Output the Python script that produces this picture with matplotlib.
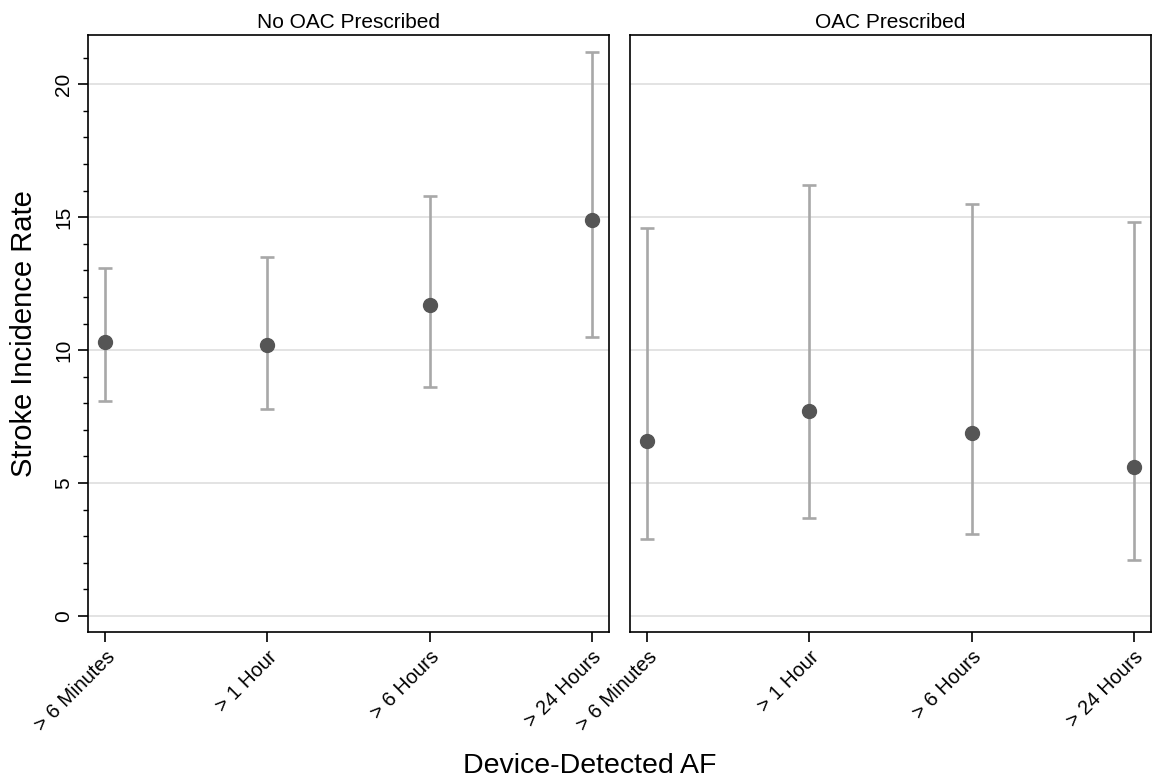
import numpy as np
import matplotlib.pyplot as plt
from matplotlib.ticker import MultipleLocator

plt.rcParams['font.family'] = ['Liberation Sans', 'DejaVu Sans']

# Data
categories = ["> 6 Minutes", "> 1 Hour", "> 6 Hours", "> 24 Hours"]
panels = ["No OAC Prescribed", "OAC Prescribed"]
rate_no_oac = [10.3, 10.2, 11.7, 14.9]
lo_no_oac = [8.1, 7.8, 8.6, 10.5]
hi_no_oac = [13.1, 13.5, 15.8, 21.2]
rate_oac = [6.6, 7.7, 6.9, 5.6]
lo_oac = [2.9, 3.7, 3.1, 2.1]
hi_oac = [14.6, 16.2, 15.5, 14.8]

W, H = 1153, 781
fig = plt.figure(figsize=(W / 100, H / 100), dpi=100)
ax1 = fig.add_axes([88 / W, 1 - 632 / H, (609 - 88) / W, (632 - 35) / H])
ax2 = fig.add_axes([630 / W, 1 - 632 / H, (1151 - 630) / W, (632 - 35) / H])

series = [(rate_no_oac, lo_no_oac, hi_no_oac), (rate_oac, lo_oac, hi_oac)]
x = np.arange(len(categories))

for ax, title, (rate, lo, hi) in zip([ax1, ax2], panels, series):
    rate = np.array(rate)
    err = np.vstack([rate - np.array(lo), np.array(hi) - rate])
    for yv in [0, 5, 10, 15, 20]:
        ax.axhline(yv, color="#e0e0e0", lw=1.3, zorder=0)
    ax.errorbar(x, rate, yerr=err, fmt="none", ecolor="#a8a8a8",
                elinewidth=1.9, capsize=4.7, capthick=1.9, zorder=2)
    ax.plot(x, rate, "o", color="#555555", markersize=10, zorder=3)
    ax.set_xlim(-0.105, 3.105)
    ax.set_ylim(-0.6, 21.85)
    ax.set_xticks(x)
    ax.set_xticklabels(categories, rotation=45, ha="right",
                       rotation_mode="anchor", fontsize=14.5)
    ax.tick_params(axis="x", length=7, width=1.2, pad=4)
    ax.set_title(title, fontsize=15, pad=5)
    for s in ax.spines.values():
        s.set_linewidth(1.2)

ax1.set_yticks([0, 5, 10, 15, 20])
ax1.yaxis.set_minor_locator(MultipleLocator(1))
ax1.tick_params(axis="y", which="major", length=7, width=1.2, labelsize=15)
ax1.tick_params(axis="y", which="minor", length=3.5, width=1.0)
for lab in ax1.get_yticklabels():
    lab.set_rotation(90)
    lab.set_va("center")
ax1.set_ylabel("Stroke Incidence Rate", fontsize=21, labelpad=12)
ax2.set_yticks([])

fig.text(590 / W, 1 - 766 / H, "Device-Detected AF", ha="center", va="center", fontsize=20.5)

fig.savefig("out.png", dpi=100)
